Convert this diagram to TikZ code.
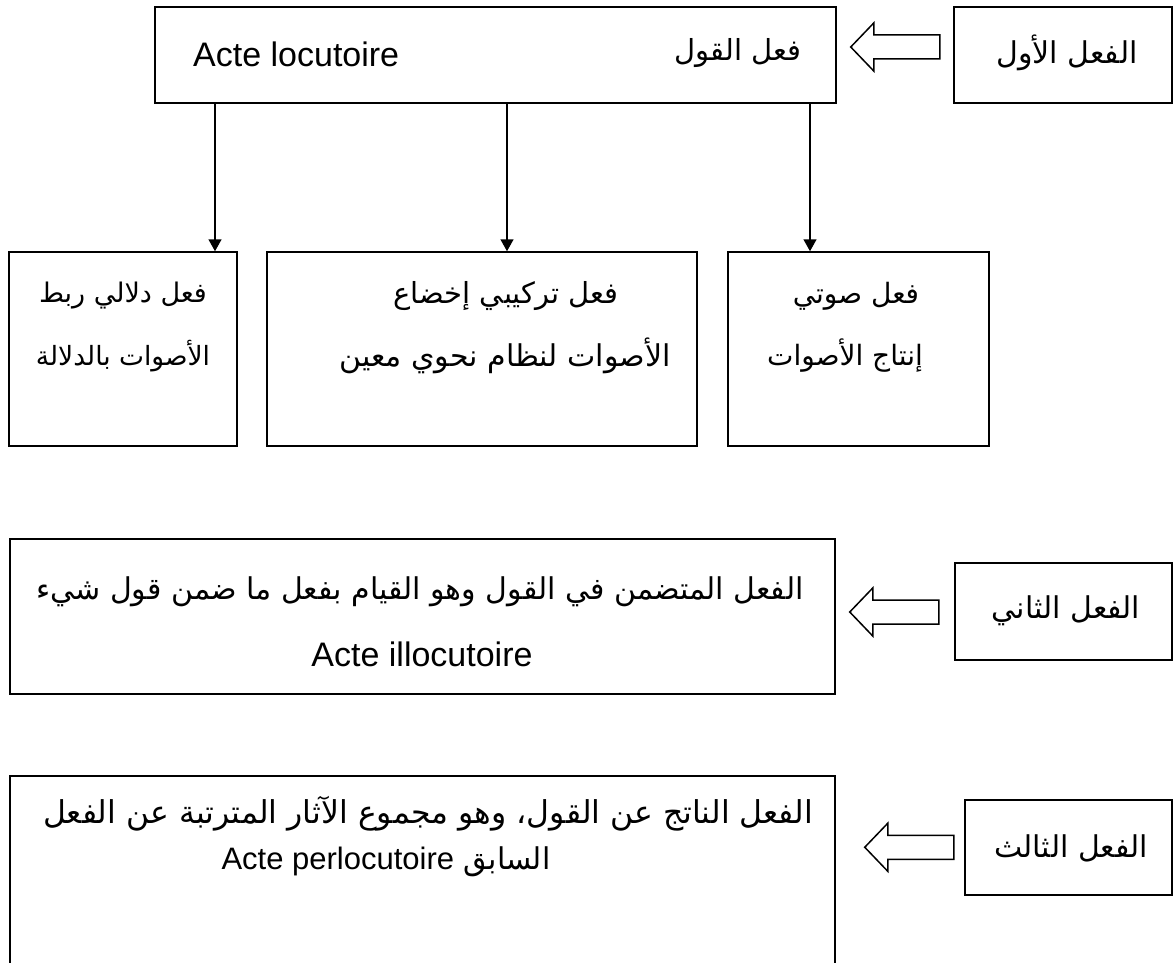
\documentclass[tikz,border=0pt]{standalone}
\usepackage{fontspec}
\setmainfont{Liberation Sans}
\newfontfamily\arabicfont[Script=Arabic]{DejaVu Sans}
\TeXXeTstate=1
\usetikzlibrary{arrows.meta,calc}
\tikzset{
  box/.style={draw,line width=1.5pt,inner sep=0pt,rectangle},
  lat/.style={font=\fontsize{34}{40}\selectfont,inner sep=0pt},
  ar/.style={font=\fontsize{28}{34}\selectfont\arabicfont,inner sep=0pt},
  arbig/.style={font=\fontsize{30}{36}\selectfont\arabicfont,inner sep=0pt},
  conn/.style={line width=1.5pt,-{Triangle[width=13pt,length=12pt]}},
  barrow/.style={draw,line width=1.5pt,line join=miter,fill=white},
  blockarr/.pic={\path[barrow] (0,0) -- (23,-24) -- (23,-12) -- (89,-12) -- (89,12) -- (23,12) -- (23,24) -- cycle;}
}
\begin{document}
\begin{tikzpicture}[x=1pt,y=-1pt]
\useasboundingbox (0,0) rectangle (1173,963);
\fill[white] (0,0) rectangle (1173,963);

% top row
\node[box,minimum width=681pt,minimum height=96pt] (top) at (495.5,55) {};
\node[lat,anchor=west] (toplat) at (193,54) {Acte locutoire};
\node[ar,font=\fontsize{29}{34}\selectfont\arabicfont] (topar) at (738,53) {\beginR فعل القول\endR};
\node[box,minimum width=218pt,minimum height=96pt] (one) at (1063,55) {};
\node[ar,font=\fontsize{30}{34}\selectfont\arabicfont] (onetxt) at (1067,53) {\beginR الفعل الأول\endR};
\pic at ($(top.east)+(14,-8)$) {blockarr};

% three sub boxes
\node[box,minimum width=228pt,minimum height=194pt] (b1) at (123,349) {};
\node[box,minimum width=430pt,minimum height=194pt] (b2) at (482,349) {};
\node[box,minimum width=261pt,minimum height=194pt] (b3) at (858.5,349) {};
\node[ar,font=\fontsize{27}{34}\selectfont\arabicfont] (b1a) at (123,296) {\beginR فعل دلالي ربط\endR};
\node[ar,font=\fontsize{26.5}{34}\selectfont\arabicfont] (b1b) at (123,356) {\beginR الأصوات بالدلالة\endR};
\node[ar,font=\fontsize{29}{34}\selectfont\arabicfont] (b2a) at (506,296) {\beginR فعل تركيبي إخضاع\endR};
\node[ar,font=\fontsize{30}{34}\selectfont\arabicfont] (b2b) at (505,356) {\beginR الأصوات لنظام نحوي معين\endR};
\node[ar] (b3a) at (856,296) {\beginR فعل صوتي\endR};
\node[ar] (b3b) at (845,356) {\beginR إنتاج الأصوات\endR};

\coordinate (x1) at (215,0);
\coordinate (x2) at (507,0);
\coordinate (x3) at (810,0);
\draw[conn] (x1 |- top.south) -- (x1 |- b1.north);
\draw[conn] (x2 |- top.south) -- (x2 |- b2.north);
\draw[conn] (x3 |- top.south) -- (x3 |- b3.north);

% second act
\node[box,minimum width=825pt,minimum height=155pt] (mid) at (422.5,616.5) {};
\node[arbig] (mida) at (420,592) {\beginR الفعل المتضمن في القول وهو القيام بفعل ما ضمن قول شيء\endR};
\node[lat] (midb) at (422,654) {Acte illocutoire};
\node[box,minimum width=217pt,minimum height=97pt] (two) at (1063.5,611.5) {};
\node[ar,font=\fontsize{30}{34}\selectfont\arabicfont] (twotxt) at (1066,611) {\beginR الفعل الثاني\endR};
\pic at ($(mid.east)+(14,-4.5)$) {blockarr};

% third act
\node[box,minimum width=825pt,minimum height=200pt] (bot) at (422.5,876) {};
\node[arbig,font=\fontsize{31.5}{36}\selectfont\arabicfont] (bota) at (428,814) {\beginR الفعل الناتج عن القول، وهو مجموع الآثار المترتبة عن الفعل\endR};
\node[ar,font=\fontsize{30}{36}\selectfont\arabicfont] (botb) at (386,862) {\beginR السابق \beginL\fontsize{31}{40}\selectfont\rmfamily Acte perlocutoire\endL\endR};
\node[box,minimum width=207pt,minimum height=95pt] (three) at (1068.5,847.5) {};
\node[ar,font=\fontsize{30}{34}\selectfont\arabicfont] (threetxt) at (1071,848) {\beginR الفعل الثالث\endR};
\pic at ($(bot.north east)+(29,72)$) {blockarr};
\end{tikzpicture}
\end{document}
